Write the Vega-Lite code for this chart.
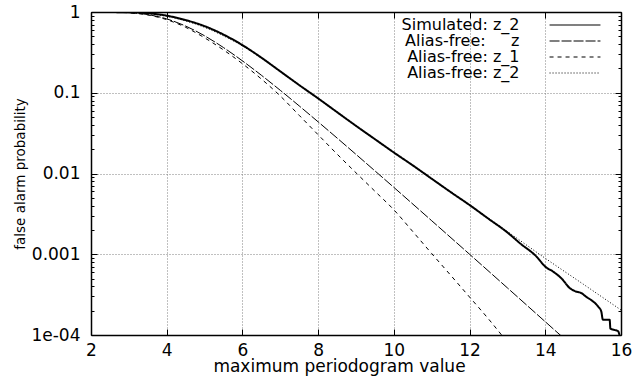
{
  "$schema": "https://vega.github.io/schema/vega-lite/v6.json",
  "width": 530,
  "height": 323,
  "autosize": {"type": "none"},
  "padding": {"left": 91, "top": 12, "right": 11, "bottom": 42},
  "background": "white",
  "config": {
    "view": {"stroke": null},
    "font": "DejaVu Sans",
    "axis": {"labelFont": "DejaVu Sans", "titleFont": "DejaVu Sans", "labelColor": "black", "titleColor": "black", "titleFontWeight": "normal", "domainColor": "black", "tickColor": "black", "domainWidth": 1.5, "tickWidth": 1}
  },
  "data": {"values": [
    {"s":"sim","x":2,"p":1},{"s":"sim","x":2.5,"p":0.998},{"s":"sim","x":3,"p":0.991},{"s":"sim","x":3.5,"p":0.966},{"s":"sim","x":4,"p":0.902},{"s":"sim","x":4.5,"p":0.794},{"s":"sim","x":5,"p":0.668},{"s":"sim","x":5.5,"p":0.525},{"s":"sim","x":6,"p":0.389},{"s":"sim","x":6.5,"p":0.272},{"s":"sim","x":7,"p":0.184},{"s":"sim","x":7.5,"p":0.1245},{"s":"sim","x":8,"p":0.0851},{"s":"sim","x":8.5,"p":0.0575},{"s":"sim","x":9,"p":0.0389},{"s":"sim","x":9.5,"p":0.0266},{"s":"sim","x":10,"p":0.0182},{"s":"sim","x":10.5,"p":0.0126},{"s":"sim","x":11,"p":0.00861},{"s":"sim","x":11.5,"p":0.00589},{"s":"sim","x":12,"p":0.00407},{"s":"sim","x":12.5,"p":0.00275},{"s":"sim","x":13,"p":0.00186},{"s":"sim","x":13.33,"p":0.00137},{"s":"sim","x":13.77,"p":0.000933},{"s":"sim","x":14,"p":0.000702},{"s":"sim","x":14.21,"p":0.000608},{"s":"sim","x":14.43,"p":0.000501},{"s":"sim","x":14.65,"p":0.00038},{"s":"sim","x":14.8,"p":0.000347},{"s":"sim","x":14.95,"p":0.000331},{"s":"sim","x":15.09,"p":0.000295},{"s":"sim","x":15.25,"p":0.000263},{"s":"sim","x":15.4,"p":0.000224},{"s":"sim","x":15.48,"p":0.000195},{"s":"sim","x":15.52,"p":0.000155},{"s":"sim","x":15.7,"p":0.000155},{"s":"sim","x":15.72,"p":0.00012},{"s":"sim","x":15.84,"p":0.000115},{"s":"sim","x":15.92,"p":0.000112},{"s":"sim","x":15.96,"p":0.0001},
    {"s":"z","x":2,"p":0.9999},{"s":"z","x":2.5,"p":0.9978},{"s":"z","x":3,"p":0.9826},{"s":"z","x":3.5,"p":0.9298},{"s":"z","x":4,"p":0.8213},{"s":"z","x":4.5,"p":0.6697},{"s":"z","x":5,"p":0.5074},{"s":"z","x":5.5,"p":0.3627},{"s":"z","x":6,"p":0.2482},{"s":"z","x":6.5,"p":0.1648},{"s":"z","x":7,"p":0.1072},{"s":"z","x":7.5,"p":0.0687},{"s":"z","x":8,"p":0.0436},{"s":"z","x":8.5,"p":0.0275},{"s":"z","x":9,"p":0.01725},{"s":"z","x":9.5,"p":0.01078},{"s":"z","x":10,"p":0.00673},{"s":"z","x":11,"p":0.0026},{"s":"z","x":12,"p":0.001},{"s":"z","x":13,"p":0.000383},{"s":"z","x":14,"p":0.000146},{"s":"z","x":14.4,"p":0.0000994},{"s":"z","x":14.5,"p":0.0000905},
    {"s":"z1","x":2,"p":1},{"s":"z1","x":2.5,"p":0.995},{"s":"z1","x":3,"p":0.977},{"s":"z1","x":3.5,"p":0.918},{"s":"z1","x":4,"p":0.804},{"s":"z1","x":4.5,"p":0.646},{"s":"z1","x":5,"p":0.479},{"s":"z1","x":5.5,"p":0.339},{"s":"z1","x":6,"p":0.229},{"s":"z1","x":6.5,"p":0.148},{"s":"z1","x":7,"p":0.0912},{"s":"z1","x":7.5,"p":0.0525},{"s":"z1","x":8,"p":0.0302},{"s":"z1","x":8.5,"p":0.0174},{"s":"z1","x":9,"p":0.0102},{"s":"z1","x":9.5,"p":0.00603},{"s":"z1","x":10,"p":0.00355},{"s":"z1","x":10.5,"p":0.00191},{"s":"z1","x":11,"p":0.00102},{"s":"z1","x":11.5,"p":0.00055},{"s":"z1","x":12,"p":0.000295},{"s":"z1","x":12.5,"p":0.000158},{"s":"z1","x":13,"p":0.0000812},
    {"s":"z2","x":2,"p":1},{"s":"z2","x":2.5,"p":0.995},{"s":"z2","x":3,"p":0.984},{"s":"z2","x":3.5,"p":0.955},{"s":"z2","x":4,"p":0.881},{"s":"z2","x":4.5,"p":0.776},{"s":"z2","x":5,"p":0.646},{"s":"z2","x":5.5,"p":0.507},{"s":"z2","x":6,"p":0.38},{"s":"z2","x":6.5,"p":0.269},{"s":"z2","x":7,"p":0.184},{"s":"z2","x":7.5,"p":0.1245},{"s":"z2","x":8,"p":0.0851},{"s":"z2","x":9,"p":0.0389},{"s":"z2","x":10,"p":0.0182},{"s":"z2","x":11,"p":0.00861},{"s":"z2","x":12,"p":0.00407},{"s":"z2","x":13,"p":0.00191},{"s":"z2","x":14,"p":0.000891},{"s":"z2","x":15,"p":0.000427},{"s":"z2","x":16,"p":0.000204}
  ]},
  "layer": [
    {
      "mark": {"type": "line", "interpolate": "monotone", "clip": true, "color": "black"},
      "encoding": {
        "x": {"field": "x", "type": "quantitative",
          "scale": {"domain": [2, 16], "nice": false, "zero": false},
          "axis": {"orient": "bottom", "values": [2,4,6,8,10,12,14,16], "format": "d", "labelFontSize": 17, "labelFlush": false, "labelPadding": 13, "tickSize": -6,
            "grid": true, "gridDash": [1,2], "gridColor": "#808080", "gridWidth": 1,
            "title": "maximum periodogram value", "titleFontSize": 17, "titlePadding": 0, "titleX": 248}},
        "y": {"field": "p", "type": "quantitative",
          "scale": {"type": "log", "domain": [0.0001, 1], "nice": false},
          "axis": {"orient": "left",
            "values": [0.0001,0.0002,0.0003,0.0004,0.0005,0.0006,0.0007,0.0008,0.0009,0.001,0.002,0.003,0.004,0.005,0.006,0.007,0.008,0.009,0.01,0.02,0.03,0.04,0.05,0.06,0.07,0.08,0.09,0.1,0.2,0.3,0.4,0.5,0.6,0.7,0.8,0.9,1],
            "labelExpr": "abs(log(datum.value)/LN10 - round(log(datum.value)/LN10)) > 0.001 ? '' : datum.value >= 0.5 ? '1' : datum.value >= 0.05 ? '0.1' : datum.value >= 0.005 ? '0.01' : datum.value >= 0.0005 ? '0.001' : '1e-04'",
            "labelFontSize": 17, "labelFlush": false, "labelOverlap": false, "labelBound": false, "labelPadding": 17,
            "tickSize": {"condition": {"test": "abs(log(datum.value)/LN10 - round(log(datum.value)/LN10)) < 0.001", "value": -6}, "value": -3},
            "grid": true, "gridDash": [1,2], "gridColor": "#808080", "gridWidth": 1,
            "gridOpacity": {"condition": {"test": "abs(log(datum.value)/LN10 - round(log(datum.value)/LN10)) < 0.001", "value": 1}, "value": 0},
            "title": "false alarm probability", "titleFontSize": 13.5, "titlePadding": 3}},
        "strokeDash": {"field": "s", "type": "nominal",
          "scale": {"domain": ["sim","z","z1","z2"], "range": [[1,0],[10,2],[4,4],[1,2]]},
          "legend": {"title": null, "orient": "none", "legendX": 476, "legendY": 5, "padding": 0,
            "symbolType": "M-6,0H6", "symbolSize": 72, "symbolStrokeColor": "black", "symbolFillColor": "transparent", "symbolStrokeWidth": 1.2,
            "labelAlign": "right", "labelOffset": -63.5, "labelFontSize": 16, "labelFont": "DejaVu Sans", "labelColor": "black", "labelLimit": 300, "rowPadding": -1,
            "labelExpr": "datum.label == 'sim' ? 'Simulated: z_2' : datum.label == 'z' ? 'Alias-free:\u00a0\u00a0\u00a0\u00a0\u00a0z' : datum.label == 'z1' ? 'Alias-free: z_1' : 'Alias-free: z_2'"}},
        "strokeWidth": {"condition": {"test": "datum.s === 'sim'", "value": 2}, "value": 1}
      }
    },
    {
      "mark": {"type": "point", "opacity": 0},
      "encoding": {
        "x": {"field": "x", "type": "quantitative",
          "axis": {"orient": "top", "values": [2,4,6,8,10,12,14,16], "labels": false, "grid": false, "tickSize": -6, "title": null}},
        "y": {"field": "p", "type": "quantitative",
          "axis": {"orient": "right",
            "values": [0.0001,0.0002,0.0003,0.0004,0.0005,0.0006,0.0007,0.0008,0.0009,0.001,0.002,0.003,0.004,0.005,0.006,0.007,0.008,0.009,0.01,0.02,0.03,0.04,0.05,0.06,0.07,0.08,0.09,0.1,0.2,0.3,0.4,0.5,0.6,0.7,0.8,0.9,1],
            "labels": false, "grid": false, "title": null,
            "tickSize": {"condition": {"test": "abs(log(datum.value)/LN10 - round(log(datum.value)/LN10)) < 0.001", "value": -6}, "value": -3}}}
      }
    }
  ],
  "resolve": {"axis": {"x": "independent", "y": "independent"}}
}
